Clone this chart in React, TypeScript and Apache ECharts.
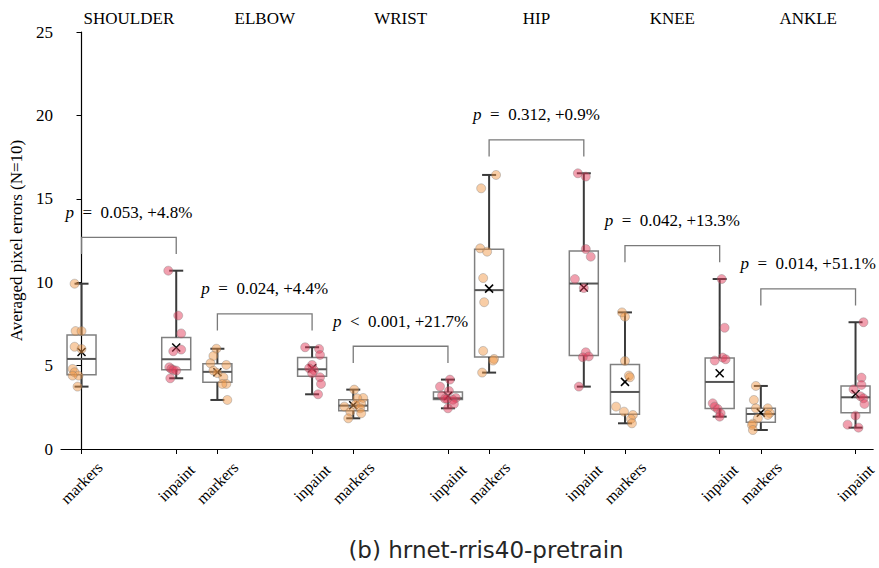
import React, { useEffect, useRef } from 'react';
import * as echarts from 'echarts';

// ---- data ----
const joints = ['SHOULDER', 'ELBOW', 'WRIST', 'HIP', 'KNEE', 'ANKLE'];
const methods = ['markers', 'inpaint'];

const markersErrors = [
  [9.91, 7.07, 7.07, 6.13, 6.0, 4.8, 4.6, 4.4, 4.4, 3.74],
  [6.01, 5.58, 5.14, 5.04, 4.7, 4.55, 4.3, 3.9, 3.9, 2.94],
  [3.56, 3.06, 3.04, 2.7, 2.66, 2.54, 2.44, 2.24, 2.14, 1.84],
  [16.43, 15.63, 12.03, 11.83, 10.25, 8.8, 5.88, 5.4, 5.3, 4.58],
  [8.19, 7.93, 5.28, 4.4, 4.3, 2.54, 2.24, 2.04, 1.8, 1.54],
  [3.78, 2.94, 2.44, 2.44, 2.16, 2.04, 1.84, 1.52, 1.44, 1.14],
];
const markersJitter = [
  [-7, -6, 0, -7, 0, -9, -7, -3, -9, -4],
  [-1, -4, -7, 9, -4, 0, 6, 9, 5, 10],
  [1, 10, 4, 8, 2, -9, 7, -3, 8, -5],
  [7, -8, -9, -2, -6, -5, -6, 5, 4, -7],
  [-3, 0, 0, 4, 5, -9, -1, 8, 6, 7],
  [-5, -7, -5, 7, 9, 7, -3, -8, -9, -8],
];
const inpaintErrors = [
  [10.69, 8.0, 6.93, 5.96, 5.86, 4.9, 4.8, 4.74, 4.7, 4.24],
  [6.1, 6.0, 5.64, 5.04, 4.84, 4.72, 4.54, 4.3, 3.9, 3.28],
  [4.16, 3.74, 3.48, 3.2, 3.06, 3.02, 3.0, 2.95, 2.7, 2.44],
  [16.53, 16.33, 11.99, 11.53, 10.19, 9.65, 5.8, 5.55, 5.5, 3.74],
  [10.19, 7.27, 5.48, 5.38, 5.3, 2.74, 2.54, 2.4, 2.14, 1.94],
  [7.6, 4.28, 3.84, 3.58, 3.16, 3.04, 2.7, 2.0, 1.46, 1.28],
];
const inpaintJitter = [
  [-8, 2, 5, 5, -3, -7, -5, -3, 0, -6],
  [-7, 7, 8, 0, -3, 2, 0, 8, 9, 6],
  [2, -8, 1, -6, 8, -3, -1, 5, 6, 0],
  [-6, 2, 2, 7, -9, 0, 2, 5, -1, -5],
  [2, 5, 3, 6, -5, -7, -5, -2, 1, 0],
  [8, 6, 6, -2, 5, 8, 9, 0, -8, 3],
];
const pRelations = ['=', '=', '<', '=', '=', '='];
const pValues = ['0.053', '0.024', '0.001', '0.312', '0.042', '0.014'];
const changes = ['+4.8%', '+4.4%', '+21.7%', '+0.9%', '+13.3%', '+51.1%'];
const yTicks = [0, 5, 10, 15, 20, 25];
const caption = '(b) hrnet-rris40-pretrain';

// ---- layout helpers ----
const GROUP_STEP = 1.4346;
const PX_PER_UNIT = 95.5;
const SERIF = '"Liberation Serif", "Times New Roman", serif';
const SP2 = '\u00a0\u00a0';
const SP1 = '\u00a0';
const P_SIZE = 17;

const posOf = (j: number, m: number) => j * GROUP_STEP + m;
const positions: number[] = [];
joints.forEach((_, j) => methods.forEach((__, m) => positions.push(posOf(j, m))));

function quantile(sorted: number[], p: number) {
  const h = (sorted.length - 1) * p;
  const lo = Math.floor(h);
  const hi = Math.ceil(h);
  return sorted[lo] + (h - lo) * (sorted[hi] - sorted[lo]);
}
function boxStats(vals: number[]) {
  const s = [...vals].sort((a, b) => a - b);
  const mean = vals.reduce((a, b) => a + b, 0) / vals.length;
  return [s[0], quantile(s, 0.25), quantile(s, 0.5), quantile(s, 0.75), s[s.length - 1], mean];
}

let measureCtx: CanvasRenderingContext2D | null = null;
function measure(text: string, font: string) {
  if (!measureCtx) measureCtx = document.createElement('canvas').getContext('2d');
  if (!measureCtx) return text.length * 8;
  measureCtx.font = font;
  return measureCtx.measureText(text).width;
}

export default function App() {
  const ref = useRef<HTMLDivElement>(null);

  useEffect(() => {
    if (!ref.current) return;
    const chart = echarts.init(ref.current, undefined, { renderer: 'svg' });

    const groups = [markersErrors, inpaintErrors];
    const jitters = [markersJitter, inpaintJitter];

    const boxData: number[][] = [];
    joints.forEach((_, j) =>
      methods.forEach((__, m) => {
        boxData.push([posOf(j, m), ...boxStats(groups[m][j])]);
      })
    );

    const pointData = (m: number) => {
      const out: number[][] = [];
      joints.forEach((_, j) =>
        groups[m][j].forEach((v, k) => out.push([posOf(j, m) + jitters[m][j][k] / PX_PER_UNIT, v]))
      );
      return out;
    };

    const bracketData = joints.map((_, j) => {
      const top = Math.max(...markersErrors[j], ...inpaintErrors[j]) + 2;
      return [posOf(j, 0), posOf(j, 1), top, j];
    });

    const titleData = joints.map((_, j) => [(posOf(j, 0) + posOf(j, 1)) / 2, 25, j]);

    const option: any = {
      animation: false,
      grid: { left: 60, right: 0, top: 32, bottom: 119, containLabel: false },
      xAxis: {
        type: 'value',
        min: (60 - 80.7) / PX_PER_UNIT,
        max: (879 - 80.7) / PX_PER_UNIT,
        splitLine: { show: false },
        axisLine: { show: true, lineStyle: { color: '#000', width: 1.2 } },
        axisTick: { show: true, length: 5, customValues: positions, lineStyle: { color: '#000' } },
        axisLabel: {
          customValues: positions,
          formatter: (v: number) => {
            const idx = positions.findIndex((p) => Math.abs(p - v) < 1e-6);
            return idx >= 0 ? methods[idx % 2] : '';
          },
          rotate: 45,
          align: 'center',
          verticalAlign: 'middle',
          margin: 34,
          fontFamily: SERIF,
          fontSize: 16,
          color: '#000',
        },
      },
      yAxis: {
        type: 'value',
        min: yTicks[0],
        max: yTicks[yTicks.length - 1],
        interval: 5,
        name: 'Averaged pixel errors (N=10)',
        nameLocation: 'middle',
        nameGap: 36,
        nameTextStyle: { fontFamily: SERIF, fontSize: 17, color: '#000' },
        splitLine: { show: false },
        axisLine: { show: true, lineStyle: { color: '#000', width: 1.2 } },
        axisTick: { show: true, length: 5, lineStyle: { color: '#000' } },
        axisLabel: { fontFamily: SERIF, fontSize: 17, color: '#000', margin: 8 },
      },
      series: [
        {
          type: 'custom',
          name: 'boxes',
          data: boxData,
          encode: { x: 0, y: [1, 5] },
          renderItem: (params: any, api: any) => {
            const pos = api.value(0);
            const cx = api.coord([pos, api.value(1)])[0];
            const yMin = api.coord([pos, api.value(1)])[1];
            const yQ1 = api.coord([pos, api.value(2)])[1];
            const yMed = api.coord([pos, api.value(3)])[1];
            const yQ3 = api.coord([pos, api.value(4)])[1];
            const yMax = api.coord([pos, api.value(5)])[1];
            const yMean = api.coord([pos, api.value(6)])[1];
            const hw = 14.5;
            const cap = 7;
            const dark = { stroke: '#3a3a3a', lineWidth: 2 };
            const xs = 4;
            return {
              type: 'group',
              children: [
                { type: 'rect', shape: { x: cx - hw, y: yQ3, width: 2 * hw, height: yQ1 - yQ3 }, style: { fill: 'none', stroke: '#808080', lineWidth: 1.5 } },
                { type: 'line', shape: { x1: cx, y1: yQ3, x2: cx, y2: yMax }, style: dark },
                { type: 'line', shape: { x1: cx, y1: yQ1, x2: cx, y2: yMin }, style: dark },
                { type: 'line', shape: { x1: cx - cap, y1: yMax, x2: cx + cap, y2: yMax }, style: dark },
                { type: 'line', shape: { x1: cx - cap, y1: yMin, x2: cx + cap, y2: yMin }, style: dark },
                { type: 'line', shape: { x1: cx - hw, y1: yMed, x2: cx + hw, y2: yMed }, style: { stroke: '#555', lineWidth: 2 } },
                { type: 'line', shape: { x1: cx - xs, y1: yMean - xs, x2: cx + xs, y2: yMean + xs }, style: { stroke: '#000', lineWidth: 1.5 } },
                { type: 'line', shape: { x1: cx - xs, y1: yMean + xs, x2: cx + xs, y2: yMean - xs }, style: { stroke: '#000', lineWidth: 1.5 } },
              ],
            };
          },
        },
        {
          type: 'scatter',
          name: 'markers',
          data: pointData(0),
          symbolSize: 9,
          itemStyle: { color: 'rgba(240,150,70,0.6)', borderColor: 'rgba(120,120,120,0.45)', borderWidth: 1 },
        },
        {
          type: 'scatter',
          name: 'inpaint',
          data: pointData(1),
          symbolSize: 9,
          itemStyle: { color: 'rgba(225,55,85,0.6)', borderColor: 'rgba(120,120,120,0.45)', borderWidth: 1 },
        },
        {
          type: 'custom',
          name: 'brackets',
          data: bracketData,
          encode: { x: [0, 1], y: 2 },
          renderItem: (params: any, api: any) => {
            const top = api.value(2);
            const j = api.value(3);
            const [x1, yTop] = api.coord([api.value(0), top]);
            const [x2] = api.coord([api.value(1), top]);
            const yLow = api.coord([api.value(0), top - 1])[1];
            const yText = api.coord([api.value(0), top + 1.5])[1];
            const rest = `${SP2}${pRelations[j]}${SP2}${pValues[j]},${SP1}${changes[j]}`;
            const wp = measure('p', `italic ${P_SIZE}px "Liberation Serif"`);
            const wr = measure(rest, `${P_SIZE}px "Liberation Serif"`);
            const start = (x1 + x2) / 2 - (wp + wr) / 2;
            return {
              type: 'group',
              children: [
                { type: 'polyline', shape: { points: [[x1, yLow], [x1, yTop], [x2, yTop], [x2, yLow]] }, style: { fill: 'none', stroke: '#7a7a7a', lineWidth: 1.3 } },
                {
                  type: 'text',
                  x: start,
                  y: yText,
                  style: { text: 'p', fontFamily: SERIF, fontStyle: 'italic', fontSize: P_SIZE, fill: '#000', align: 'left', verticalAlign: 'middle' },
                },
                {
                  type: 'text',
                  x: start + wp,
                  y: yText,
                  style: { text: rest, fontFamily: SERIF, fontSize: P_SIZE, fill: '#000', align: 'left', verticalAlign: 'middle' },
                },
              ],
            };
          },
        },
        {
          type: 'custom',
          name: 'titles',
          data: titleData,
          encode: { x: 0, y: 1 },
          renderItem: (params: any, api: any) => {
            const x = api.coord([api.value(0), api.value(1)])[0];
            return {
              type: 'text',
              x,
              y: 18,
              style: { text: joints[api.value(2)], fontFamily: SERIF, fontSize: 17, fill: '#000', align: 'center', verticalAlign: 'middle' },
            };
          },
        },
      ],
      graphic: [
        {
          type: 'text',
          x: 486,
          y: 550,
          style: { text: caption, fontFamily: '"DejaVu Sans", sans-serif', fontSize: 23, fill: '#262626', align: 'center', verticalAlign: 'middle' },
        },
      ],
    };

    chart.setOption(option);
    return () => chart.dispose();
  }, []);

  return <div ref={ref} style={{ position: 'fixed', left: 0, top: 0, width: 879, height: 568, background: '#fff' }} />;
}
